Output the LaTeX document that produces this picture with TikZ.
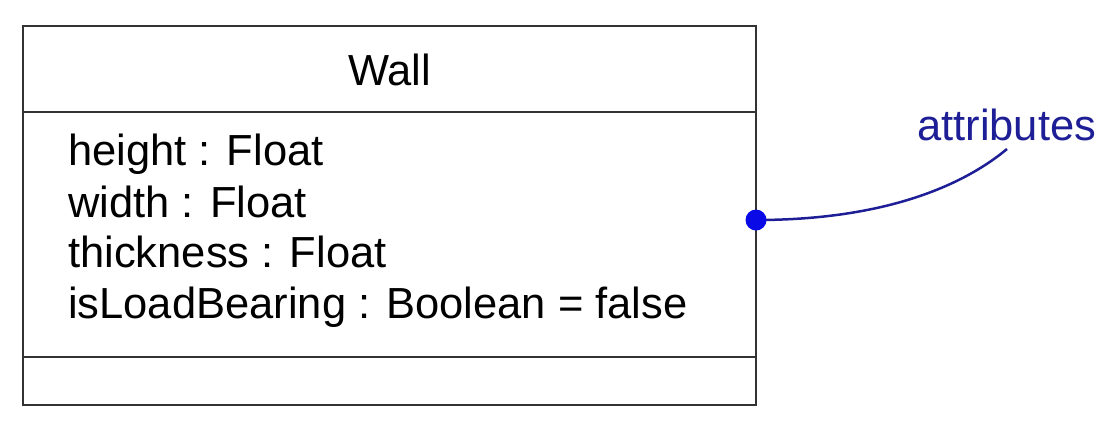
\documentclass[tikz,border=0pt]{standalone}
\usepackage{fontspec}
\setmainfont{Liberation Sans}
\usepackage{tikz}

\definecolor{notecolor}{RGB}{30,30,150}
\definecolor{dotcolor}{RGB}{10,10,230}

\tikzset{
    boxline/.style={draw=black!80, line width=2.5pt},
    attrtext/.style={anchor=base west, inner sep=0pt, font=\fontsize{43.5}{51}\selectfont},
    notetext/.style={anchor=base west, inner sep=0pt, text=notecolor, font=\fontsize{43.5}{51}\selectfont}
}

\begin{document}
\begin{tikzpicture}[x=1pt, y=-1pt]
    \useasboundingbox (0,0) rectangle (1097,424);

    % Outer box of the class
    \node[boxline, minimum width=733pt, minimum height=379pt, inner sep=0pt] (wall) at (389.5,215.5) {};

    % Dividers between name, attributes and operations
    \coordinate (headL) at (23,112);
    \coordinate (headR) at (756,112);
    \coordinate (opsL) at (23,357);
    \coordinate (opsR) at (756,357);
    \draw[boxline] (headL) -- (headR);
    \draw[boxline] (opsL) -- (opsR);

    % Class name
    \node[attrtext, anchor=base] (name) at (389.5,85) {Wall};

    % Attributes
    \node[attrtext] (a1) at (68,165) {height : Float};
    \node[attrtext] (a2) at (68,217) {width : Float};
    \node[attrtext] (a3) at (68,267) {thickness : Float};
    \node[attrtext] (a4) at (68,318) {isLoadBearing : Boolean = false};

    % Note with connector
    \node[notetext] (note) at (917,140) {attributes};
    \coordinate (dot) at (756,220);
    \coordinate (tip) at (1007,149);
    \draw[notecolor, line width=2.5pt] (dot) .. controls (880,220) and (960,188) .. (tip);
    \fill[dotcolor] (dot) circle (10.5);
\end{tikzpicture}
\end{document}
